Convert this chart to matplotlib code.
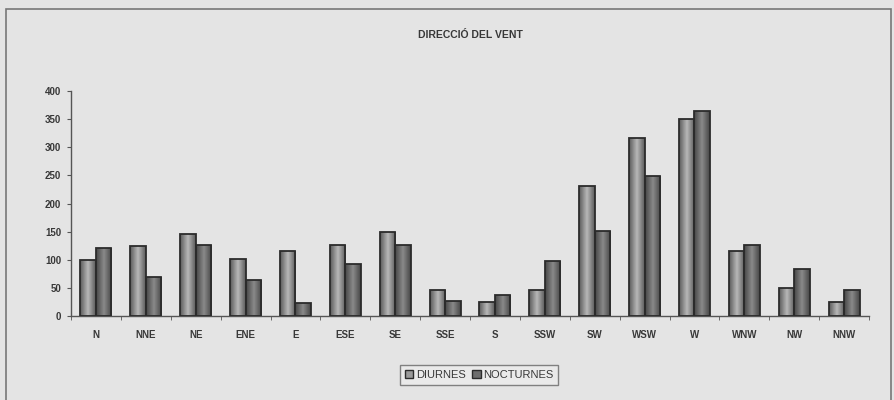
import numpy as np
import matplotlib
matplotlib.use("Agg")
import matplotlib.pyplot as plt
from matplotlib.patches import Rectangle
from matplotlib.colors import LinearSegmentedColormap

categories = ["N", "NNE", "NE", "ENE", "E", "ESE", "SE", "SSE", "S", "SSW",
              "SW", "WSW", "W", "WNW", "NW", "NNW"]
diurnes = [99, 125, 146, 102, 115, 126, 149, 47, 25, 47, 231, 316, 350, 115, 50, 25]
nocturnes = [121, 69, 127, 64, 23, 93, 126, 26, 38, 98, 151, 249, 364, 126, 84, 46]
yticks = [0, 50, 100, 150, 200, 250, 300, 350, 400]

plt.rcParams['font.family'] = ['Liberation Sans', 'DejaVu Sans']

fig = plt.figure(figsize=(8.94, 4.0), dpi=100)
bg = '#e4e4e4'
fig.patch.set_facecolor(bg)

# outer frame
fig.patches.append(Rectangle((6/894, -0.05), (891-6)/894, 1.05 - 9/400,
                             transform=fig.transFigure, fill=False,
                             edgecolor='#777777', linewidth=1.2))

ax = fig.add_axes([71/894, 1-316/400, (869-71)/894, (316-91)/400])
ax.set_facecolor(bg)

x = np.arange(len(categories))
w = 0.31
b1 = ax.bar(x - w/2, diurnes, w, color='none', edgecolor='#2b2b2b', linewidth=1.3, zorder=3)
b2 = ax.bar(x + w/2, nocturnes, w, color='none', edgecolor='#2b2b2b', linewidth=1.3, zorder=3)

cm1 = LinearSegmentedColormap.from_list('d', ['#5a5a5a', '#b8b8b8', '#5a5a5a'])
cm2 = LinearSegmentedColormap.from_list('n', ['#464646', '#8a8a8a', '#464646'])
grad = np.linspace(0, 1, 64).reshape(1, -1)
for bars, cm in ((b1, cm1), (b2, cm2)):
    for p in bars:
        x0, y0 = p.get_x(), p.get_y()
        im = ax.imshow(grad, cmap=cm, aspect='auto', zorder=2,
                       extent=[x0, x0 + p.get_width(), y0, y0 + p.get_height()],
                       interpolation='bilinear')
        im.set_clip_path(p)

ax.set_xlim(-0.5, len(categories) - 0.5)
ax.set_ylim(0, 400)
ax.set_yticks(yticks)
ax.set_yticklabels([str(v) for v in yticks], fontsize=7, fontweight='bold', color='#383838')
ax.set_xticks(x)
ax.set_xticklabels(categories, fontsize=7, fontweight='bold', color='#383838')
ax.set_xticks(np.arange(-0.5, len(categories)), minor=True)
ax.tick_params(axis='x', which='major', length=0, pad=10)
ax.tick_params(axis='x', which='minor', length=3, direction='out', color='#555555')
ax.tick_params(axis='y', length=3, direction='out', color='#555555', pad=4)
for s in ('top', 'right'):
    ax.spines[s].set_visible(False)
for s in ('left', 'bottom'):
    ax.spines[s].set_color('#555555')
    ax.spines[s].set_linewidth(1.0)

fig.text(0.5 * (71 + 869) / 894, 1 - 35/400, 'DIRECCIÓ DEL VENT', ha='center', va='center',
         fontsize=7.5, fontweight='bold', color='#383838')

h1 = Rectangle((0, 0), 1, 1, facecolor='#9a9a9a', edgecolor='#2b2b2b')
h2 = Rectangle((0, 0), 1, 1, facecolor='#6e6e6e', edgecolor='#2b2b2b')
leg = fig.legend([h1, h2], ['DIURNES', 'NOCTURNES'], loc='center',
                 bbox_to_anchor=(479/894, 1 - 375/400), ncol=2, fontsize=8,
                 frameon=True, fancybox=False, edgecolor='#666666', facecolor='#ececec',
                 handlelength=0.8, handleheight=0.8, handletextpad=0.2, columnspacing=0.6,
                 borderpad=0.45)
leg.get_frame().set_linewidth(1.0)
for t in leg.get_texts():
    t.set_color('#383838')

fig.savefig('out.png', dpi=100, facecolor=fig.get_facecolor())
